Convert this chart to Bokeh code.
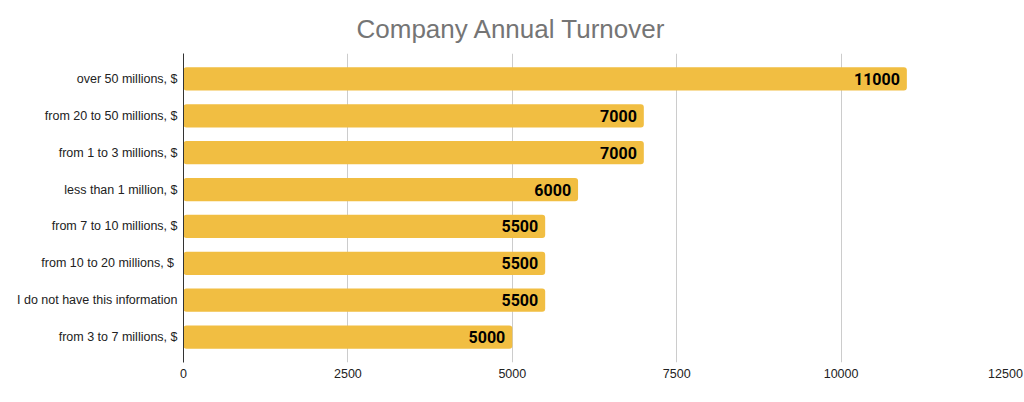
from bokeh.plotting import figure
from bokeh.models import FactorRange, Range1d, FixedTicker, Title, ColumnDataSource
from bokeh.core.properties import value
from bokeh.embed import file_html
from bokeh.resources import INLINE

categories = [
    "over 50 millions, $",
    "from 20 to 50 millions, $",
    "from 1 to 3 millions, $",
    "less than 1 million, $",
    "from 7 to 10 millions, $",
    "from 10 to 20  millions, $",
    "I do not have this information",
    "from 3 to 7 millions, $",
]
values = [11000, 7000, 7000, 6000, 5500, 5500, 5500, 5000]
x_ticks = [0, 2500, 5000, 7500, 10000, 12500]
title_text = "Company Annual Turnover"

src = ColumnDataSource(dict(cat=categories, val=values, lab=[str(v) for v in values]))

p = figure(
    width=1024, height=402,
    y_range=FactorRange(factors=list(reversed(categories)), range_padding=0.0475),
    x_range=Range1d(0, 12500),
    output_backend="svg", toolbar_location=None,
    min_border_left=183, min_border_right=19, min_border_bottom=40, min_border_top=53,
)
p.title = Title(text=title_text, align="left", offset=173, vertical_align="top",
                text_font_size="26px", text_color="#757575", text_line_height=0.7,
                text_font="Liberation Sans", text_font_style="normal", standoff=16)
p.outline_line_color = None

p.hbar(y="cat", right="val", left=0, height=0.63, source=src,
       fill_color="#F1BE42", line_color=None, border_radius=3)
p.text(x="val", y="cat", text="lab", source=src, x_offset=-7,
       text_align="right", text_baseline="middle",
       text_font=value("Roboto"), text_font_style="bold",
       text_font_size="16px", text_color="#000000")

p.xaxis.ticker = FixedTicker(ticks=x_ticks)
p.xaxis.axis_line_color = None
p.xaxis.major_tick_line_color = None
p.xaxis.major_tick_out = 0
p.xaxis.minor_tick_out = 0
p.xaxis.minor_tick_line_color = None
p.xaxis.major_label_text_font = "Liberation Sans"
p.xaxis.major_label_text_font_size = "12.5px"
p.xaxis.major_label_text_color = "#222222"
p.xaxis.major_label_standoff = 6

p.yaxis.axis_line_color = "#333333"
p.yaxis.axis_line_width = 1
p.yaxis.major_tick_line_color = None
p.yaxis.major_tick_out = 0
p.yaxis.minor_tick_out = 0
p.yaxis.minor_tick_line_color = None
p.yaxis.major_label_text_font = "Liberation Sans"
p.yaxis.major_label_text_font_size = "12.5px"
p.yaxis.major_label_text_color = "#222222"
p.yaxis.major_label_standoff = 6

p.ygrid.grid_line_color = None
p.xgrid.grid_line_color = "#cccccc"
p.xgrid.ticker = FixedTicker(ticks=x_ticks)

open("out.html", "w").write(file_html(p, INLINE))
